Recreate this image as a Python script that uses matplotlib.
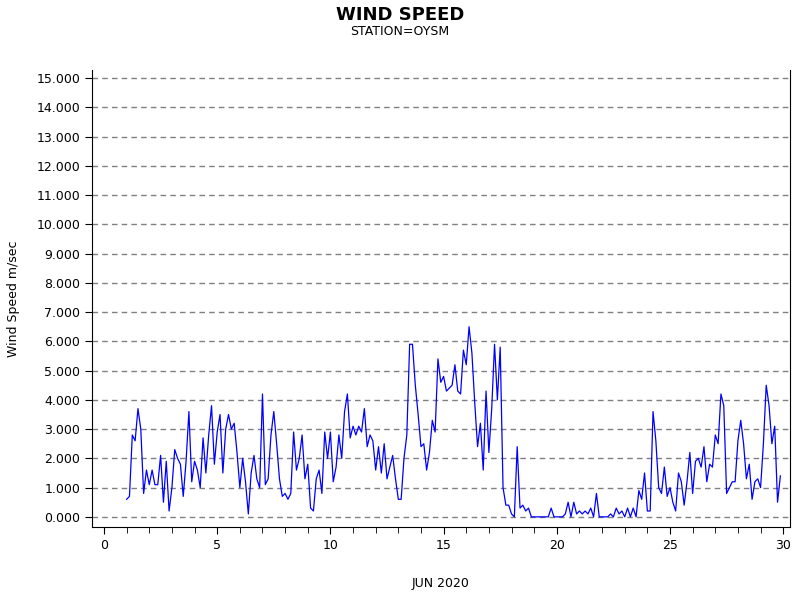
import matplotlib
matplotlib.use('Agg')
import matplotlib.pyplot as plt
import numpy as np

# ── data: 3-hourly wind speed, June 2020, starting day 1.0 ───────────────────
start_day = 1.0
step      = 0.125
speed = [
    0.6, 0.7, 2.8, 2.6, 3.7, 3.0, 0.8, 1.6,
    1.1, 1.6, 1.1, 1.1, 2.1, 0.5, 1.9, 0.2,
    1.0, 2.3, 2.0, 1.8, 0.7, 1.9, 3.6, 1.2,
    1.9, 1.6, 1.0, 2.7, 1.5, 2.8, 3.8, 1.8,
    2.9, 3.5, 1.5, 3.0, 3.5, 3.0, 3.2, 2.2,
    1.0, 2.0, 1.2, 0.1, 1.5, 2.1, 1.3, 1.0,
    4.2, 1.1, 1.3, 2.8, 3.6, 2.5, 1.3, 0.7,
    0.8, 0.6, 0.8, 2.9, 1.6, 2.0, 2.8, 1.3,
    1.8, 0.3, 0.2, 1.3, 1.6, 0.8, 2.9, 2.0,
    2.9, 1.2, 1.7, 2.8, 2.0, 3.6, 4.2, 2.7,
    3.1, 2.8, 3.1, 2.9, 3.7, 2.4, 2.8, 2.6,
    1.6, 2.4, 1.5, 2.5, 1.3, 1.7, 2.1, 1.3,
    0.6, 0.6, 2.0, 2.8, 5.9, 5.9, 4.5, 3.5,
    2.4, 2.5, 1.6, 2.2, 3.3, 2.9, 5.4, 4.6,
    4.8, 4.3, 4.4, 4.5, 5.2, 4.3, 4.2, 5.7,
    5.2, 6.5, 5.6, 3.9, 2.4, 3.2, 1.6, 4.3,
    2.2, 3.7, 5.9, 4.0, 5.8, 1.0, 0.4, 0.4,
    0.1, 0.0, 2.4, 0.3, 0.4, 0.2, 0.3, 0.0,
    0.0, 0.0, 0.0, 0.0, 0.0, 0.0, 0.3, 0.0,
    0.0, 0.0, 0.0, 0.1, 0.5, 0.0, 0.5, 0.1,
    0.2, 0.1, 0.2, 0.1, 0.3, 0.0, 0.8, 0.0,
    0.0, 0.0, 0.0, 0.1, 0.0, 0.3, 0.1, 0.2,
    0.0, 0.3, 0.0, 0.3, 0.0, 0.9, 0.6, 1.5,
    0.2, 0.2, 3.6, 2.6, 1.0, 0.8, 1.7, 0.7,
    1.0, 0.5, 0.2, 1.5, 1.2, 0.4, 1.2, 2.2,
    0.8, 1.9, 2.0, 1.7, 2.4, 1.2, 1.8, 1.7,
    2.8, 2.5, 4.2, 3.8, 0.8, 1.0, 1.2, 1.2,
    2.6, 3.3, 2.5, 1.3, 1.8, 0.6, 1.2, 1.3,
    1.0, 2.5, 4.5, 3.8, 2.5, 3.1, 0.5, 1.4,
]
days = start_day + step * np.arange(len(speed))

y_ticks = np.arange(0, 16)
x_ticks = [0, 5, 10, 15, 20, 25, 30]

# ── plot ──────────────────────────────────────────────────────────────────────
fig = plt.figure(figsize=(8, 6), dpi=100)
ax = fig.add_axes([0.115, 0.122, 0.8725, 0.761])

for y in y_ticks:
    ax.axhline(y, color='#808080', lw=1, ls=(0, (4, 3)), zorder=1)
ax.plot(days, speed, color='blue', lw=0.9, zorder=2)

ax.set_xlim(-0.53, 30.3)
ax.set_ylim(-0.34, 15.27)
ax.set_xticks(x_ticks)
ax.set_xticks(np.arange(0, 31), minor=True)
ax.set_yticks(y_ticks)
ax.set_yticklabels([f'{v:.3f}' for v in y_ticks])
ax.tick_params(labelsize=9, direction='out', length=5)
ax.tick_params(which='minor', length=4)
ax.spines['top'].set_visible(False)

ax.set_xlabel('JUN 2020', fontsize=9, labelpad=18)
ax.set_ylabel('Wind Speed m/sec', fontsize=9, labelpad=12)

fig.text(0.5, 0.967, 'WIND SPEED', ha='center', fontsize=13, fontweight='bold')
fig.text(0.5, 0.942, 'STATION=OYSM', ha='center', fontsize=9)

plt.savefig('out.png', dpi=100)
